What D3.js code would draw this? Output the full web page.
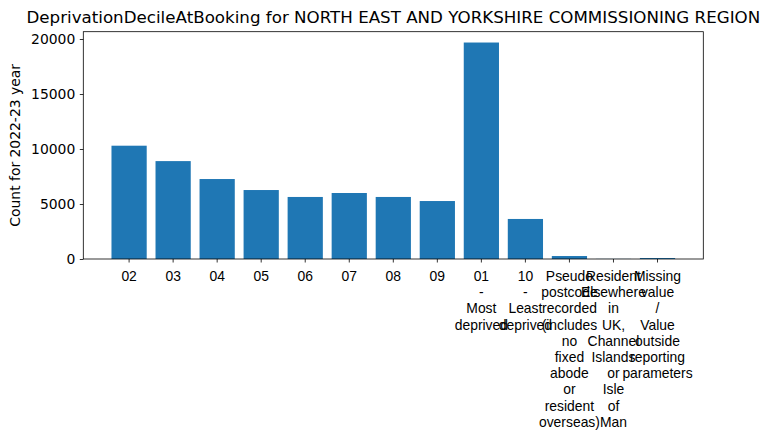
<!DOCTYPE html>
<html>
<head>
<meta charset="utf-8">
<script src="https://cdn.jsdelivr.net/npm/d3@7"></script>
<style>
  body { margin: 0; background: #fff; }
  svg { font-family: "DejaVu Sans", sans-serif; }
</style>
</head>
<body>
<svg id="chart" width="768" height="439"></svg>
<script>
var title = 'DeprivationDecileAtBooking for NORTH EAST AND YORKSHIRE COMMISSIONING REGION';
var yLabel = 'Count for 2022-23 year';

var categories = [
  '02', '03', '04', '05', '06', '07', '08', '09',
  '01 - Most deprived',
  '10 - Least deprived',
  'Pseudo postcode recorded (includes no fixed abode or resident overseas)',
  'Resident Elsewhere in UK, Channel Islands or Isle of Man',
  'Missing value / Value outside reporting parameters'
];
var counts = [10300, 8900, 7270, 6270, 5640, 6000, 5640, 5270, 19680, 3640, 270, 10, 90];
var yTicks = [0, 5000, 10000, 15000, 20000];

var margin = { top: 31.7, right: 64.7, bottom: 180, left: 83.3 };
var width = 768 - margin.left - margin.right;
var height = 259 - margin.top;

var svg = d3.select('#chart');
var g = svg.append('g')
  .attr('transform', 'translate(' + margin.left + ',' + margin.top + ')');

var x = d3.scaleBand()
  .domain(categories)
  .range([0, width])
  .paddingInner(0.2)
  .paddingOuter(0.64);

var y = d3.scaleLinear()
  .domain([0, d3.max(counts) * 1.05])
  .range([height, 0]);

// bars
g.selectAll('rect.bar')
  .data(counts)
  .enter()
  .append('rect')
  .attr('class', 'bar')
  .attr('x', (d, i) => x(categories[i]))
  .attr('width', x.bandwidth())
  .attr('y', d => y(d))
  .attr('height', d => height - y(d))
  .attr('fill', '#1f77b4');

// frame
g.append('rect')
  .attr('width', width)
  .attr('height', height)
  .attr('fill', 'none')
  .attr('stroke', '#000')
  .attr('stroke-width', 0.8);

// y axis
var yAxis = g.append('g')
  .call(d3.axisLeft(y).tickValues(yTicks).tickSize(3.5).tickPadding(4.5).tickFormat(d3.format('d')));
yAxis.select('.domain').remove();
yAxis.selectAll('line').attr('stroke-width', 0.8);
yAxis.selectAll('text')
  .attr('font-size', '13.9px')
  .attr('font-family', '"DejaVu Sans", sans-serif')
  .attr('fill', '#000');

// x axis, one word per line
var xAxis = g.append('g')
  .attr('transform', 'translate(0,' + height + ')')
  .call(d3.axisBottom(x).tickSize(3.5).tickFormat(''));
xAxis.select('.domain').remove();
xAxis.selectAll('line').attr('stroke-width', 0.8);
xAxis.selectAll('.tick').each(function(d) {
  var words = d.split(' ');
  var t = d3.select(this).append('text')
    .attr('text-anchor', 'middle')
    .attr('font-size', '13.9px')
    .attr('fill', '#000');
  words.forEach(function(w, i) {
    t.append('tspan')
      .attr('x', 0)
      .attr('y', 22 + i * 16.2)
      .text(w);
  });
});

// y label
svg.append('text')
  .attr('transform', 'translate(20,' + (margin.top + height / 2) + ') rotate(-90)')
  .attr('text-anchor', 'middle')
  .attr('font-size', '13.9px')
  .text(yLabel);

// title
svg.append('text')
  .attr('x', margin.left + width / 2)
  .attr('y', 23)
  .attr('text-anchor', 'middle')
  .attr('font-size', '16.7px')
  .text(title);
</script>
</body>
</html>
